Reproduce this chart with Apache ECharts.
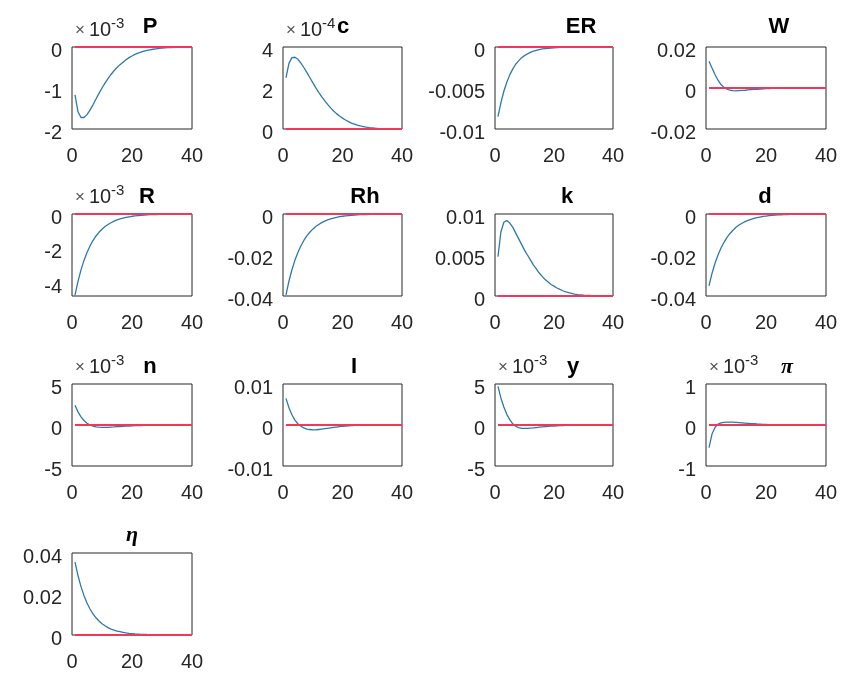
<!DOCTYPE html>
<html>
<head>
<meta charset="utf-8">
<script src="https://cdn.jsdelivr.net/npm/echarts@6/dist/echarts.min.js"></script>
<style>
html, body { margin: 0; background: #fff; }
#main { width: 841px; height: 673px; }
</style>
</head>
<body>
<div id="main"></div>
<script>
// impulse responses, periods 1..40
var horizon = [];
for (var h = 1; h <= 40; h++) horizon.push(h);

var names = ['P', 'c', 'ER', 'W', 'R', 'Rh', 'k', 'd', 'n', 'I', 'y', 'π', 'η'];
// exponent shown above the axis (values below are in those units)
var exps = ['-3', '-4', '', '', '-3', '', '', '', '-3', '', '-3', '-3', ''];

var P = [-1.17, -1.58, -1.72, -1.72, -1.65, -1.54, -1.41, -1.27, -1.13, -1.00, -0.88, -0.77, -0.67, -0.58, -0.50, -0.43, -0.37, -0.31, -0.26, -0.22,
  -0.18, -0.15, -0.125, -0.10, -0.085, -0.07, -0.055, -0.045, -0.035, -0.028, -0.022, -0.017, -0.013, -0.01, -0.008, -0.006, -0.005, -0.004, -0.003, -0.002];
var c = [2.50, 3.20, 3.48, 3.50, 3.40, 3.22, 3.00, 2.76, 2.51, 2.26, 2.02, 1.79, 1.58, 1.38, 1.20, 1.03, 0.88, 0.75, 0.63, 0.53,
  0.44, 0.36, 0.29, 0.24, 0.19, 0.15, 0.12, 0.09, 0.07, 0.055, 0.04, 0.03, 0.022, 0.016, 0.012, 0.009, 0.006, 0.004, 0.003, 0.002];
var ER = [-0.0085, -0.0068, -0.0054, -0.0043, -0.0034, -0.0027, -0.0021, -0.0017, -0.0013, -0.00105, -0.00083, -0.00065, -0.00051, -0.0004, -0.00031, -0.00024, -0.00019, -0.00015, -0.00012, -0.00009,
  -0.00007, -0.000055, -0.000043, -0.000034, -0.000026, -0.00002, -0.000016, -0.000012, -0.00001, -0.000008, -0.000006, -0.000005, -0.000004, -0.000003, -0.000002, -0.000002, -0.000001, -0.000001, -0.000001, 0];
var W = [0.0130, 0.0098, 0.0066, 0.0038, 0.0017, 0.0003, -0.0006, -0.0011, -0.0013, -0.0014, -0.0013, -0.0012, -0.0011, -0.0009, -0.0008, -0.0007, -0.0006, -0.0005, -0.0004, -0.0003,
  -0.00025, -0.0002, -0.00016, -0.00013, -0.0001, -0.00008, -0.00006, -0.00005, -0.00004, -0.00003, -0.00002, -0.00002, -0.00001, -0.00001, -0.00001, 0, 0, 0, 0, 0];
var R = [-4.65, -3.86, -3.20, -2.66, -2.21, -1.83, -1.52, -1.26, -1.05, -0.87, -0.72, -0.60, -0.50, -0.41, -0.34, -0.28, -0.23, -0.19, -0.16, -0.13,
  -0.11, -0.09, -0.075, -0.06, -0.05, -0.04, -0.035, -0.03, -0.025, -0.02, -0.015, -0.012, -0.01, -0.008, -0.006, -0.005, -0.004, -0.003, -0.002, -0.002];
var Rh = [-0.0395, -0.0328, -0.0272, -0.0226, -0.0188, -0.0156, -0.0129, -0.0107, -0.0089, -0.0074, -0.0061, -0.0051, -0.0042, -0.0035, -0.0029, -0.0024, -0.002, -0.0016, -0.0013, -0.0011,
  -0.0009, -0.00075, -0.0006, -0.0005, -0.0004, -0.00035, -0.0003, -0.00025, -0.0002, -0.00015, -0.00012, -0.0001, -0.00008, -0.00006, -0.00005, -0.00004, -0.00003, -0.00002, -0.00002, -0.00001];
var k = [0.0048, 0.0078, 0.0090, 0.0092, 0.0089, 0.0084, 0.0077, 0.0070, 0.0063, 0.0056, 0.0050, 0.0044, 0.0038, 0.0033, 0.0028, 0.0024, 0.0020, 0.0017, 0.0014, 0.0012,
  0.00098, 0.0008, 0.00064, 0.0005, 0.0004, 0.00031, 0.00024, 0.00018, 0.00014, 0.0001, 0.00008, 0.00006, 0.00004, 0.00003, 0.00002, 0.00002, 0.00001, 0.00001, 0, 0];
var d = [-0.035, -0.029, -0.024, -0.020, -0.0166, -0.0138, -0.0114, -0.0095, -0.0079, -0.0065, -0.0054, -0.0045, -0.0037, -0.0031, -0.0026, -0.0021, -0.0018, -0.0015, -0.0012, -0.001,
  -0.0008, -0.00066, -0.00055, -0.00045, -0.00037, -0.0003, -0.00025, -0.0002, -0.00017, -0.00014, -0.00011, -0.00009, -0.00007, -0.00006, -0.00005, -0.00004, -0.00003, -0.00002, -0.00002, -0.00001];
var n = [2.4, 1.6, 1.0, 0.55, 0.22, 0.0, -0.14, -0.22, -0.27, -0.29, -0.29, -0.28, -0.26, -0.24, -0.21, -0.19, -0.16, -0.14, -0.12, -0.10,
  -0.085, -0.07, -0.06, -0.05, -0.04, -0.033, -0.027, -0.022, -0.018, -0.014, -0.011, -0.009, -0.007, -0.005, -0.004, -0.003, -0.002, -0.002, -0.001, -0.001];
var I = [0.0065, 0.0042, 0.0025, 0.0012, 0.0003, -0.0003, -0.0007, -0.001, -0.0011, -0.0012, -0.0012, -0.0011, -0.001, -0.0009, -0.0008, -0.0007, -0.0006, -0.0005, -0.0004, -0.0003,
  -0.00025, -0.0002, -0.00015, -0.0001, -0.00008, -0.00006, -0.00004, -0.00003, -0.00002, -0.00001, 0, 0, 0, 0, 0, 0, 0, 0, 0, 0];
var y = [4.7, 3.3, 2.2, 1.3, 0.65, 0.15, -0.15, -0.32, -0.4, -0.42, -0.41, -0.38, -0.35, -0.31, -0.27, -0.23, -0.2, -0.17, -0.14, -0.12,
  -0.1, -0.08, -0.065, -0.05, -0.04, -0.032, -0.025, -0.02, -0.015, -0.012, -0.009, -0.007, -0.005, -0.004, -0.003, -0.002, -0.002, -0.001, -0.001, 0];
var pi = [-0.55, -0.22, -0.06, 0.02, 0.05, 0.065, 0.07, 0.07, 0.068, 0.064, 0.059, 0.053, 0.047, 0.041, 0.035, 0.03, 0.025, 0.021, 0.017, 0.014,
  0.011, 0.009, 0.007, 0.006, 0.005, 0.004, 0.003, 0.002, 0.002, 0.001, 0.001, 0, 0, 0, 0, 0, 0, 0, 0, 0];
var eta = [0.0355, 0.029, 0.0236, 0.0192, 0.0156, 0.0127, 0.0103, 0.0084, 0.0068, 0.0055, 0.0045, 0.0036, 0.0029, 0.0024, 0.0019, 0.0016, 0.0013, 0.001, 0.0008, 0.0007,
  0.00055, 0.00045, 0.00035, 0.0003, 0.00024, 0.0002, 0.00015, 0.00012, 0.0001, 0.00008, 0.00006, 0.00005, 0.00004, 0.00003, 0.00002, 0.00002, 0.00001, 0.00001, 0, 0];
var irf = [P, c, ER, W, R, Rh, k, d, n, I, y, pi, eta];

var yMin = [-2, 0, -0.01, -0.02, -4.7, -0.04, 0, -0.04, -5, -0.01, -5, -1, 0];
var yMax = [0, 4, 0, 0.02, 0, 0, 0.01, 0, 5, 0.01, 5, 1, 0.04];
var yTicks = [[-2, -1, 0], [0, 2, 4], [-0.01, -0.005, 0], [-0.02, 0, 0.02], [-4, -2, 0], [-0.04, -0.02, 0], [0, 0.005, 0.01],
  [-0.04, -0.02, 0], [-5, 0, 5], [-0.01, 0, 0.01], [-5, 0, 5], [-1, 0, 1], [0, 0.02, 0.04]];
var xTicks = [0, 20, 40];

// layout
var colLeft = [72, 283, 495, 706];
var colWidth = [120, 119, 118, 120];
var rowTop = [47, 214, 384, 553];
var boxH = 82;
var titleX = [150, 343, 581, 779, 147, 365, 567, 765, 150, 354, 573, 787, 132];
var titleY = [27, 197, 367, 535];

var blue = '#2f78ad', red = '#f0385a', ink = '#262626';
var font = 'Liberation Sans, Arial, sans-serif';

var chart = echarts.init(document.getElementById('main'), null, { renderer: 'canvas' });
var grids = [], xAxes = [], yAxes = [], series = [], graphics = [];

names.forEach(function (name, i) {
  var col = i % 4, row = Math.floor(i / 4);
  grids.push({
    left: colLeft[col], top: rowTop[row], width: colWidth[col], height: boxH,
    show: true, borderColor: ink, borderWidth: 1, backgroundColor: '#fff'
  });
  xAxes.push({
    type: 'value', gridIndex: i, min: 0, max: 40, interval: 20,
    axisLine: { show: false }, axisTick: { show: false }, splitLine: { show: false },
    axisLabel: { customValues: xTicks, fontSize: 20, color: ink, fontFamily: font, margin: 17 }
  });
  yAxes.push({
    type: 'value', gridIndex: i, min: yMin[i], max: yMax[i],
    axisLine: { show: false }, axisTick: { show: false }, splitLine: { show: false },
    axisLabel: {
      customValues: yTicks[i], margin: 10,
      formatter: function (v) { return '{t|' + String(+(+v).toPrecision(6)) + '}'; },
      rich: { t: { fontSize: 20, color: ink, fontFamily: font, padding: [8, 0, 0, 0] } }
    }
  });
  series.push({
    type: 'line', xAxisIndex: i, yAxisIndex: i, showSymbol: false, silent: true,
    lineStyle: { color: blue, width: 1.3 },
    data: horizon.map(function (t, j) { return [t, irf[i][j]]; })
  });
  series.push({
    type: 'line', xAxisIndex: i, yAxisIndex: i, showSymbol: false, silent: true,
    lineStyle: { color: red, width: 2.2 },
    data: horizon.map(function (t) { return [t, 0]; })
  });

  var greek = (name === 'π' || name === 'η');
  graphics.push({
    type: 'text', x: titleX[i], y: titleY[row],
    style: {
      text: name, align: 'center', verticalAlign: 'middle', fill: '#000',
      font: greek ? 'italic bold 22px "Liberation Serif", serif' : 'bold 22px ' + font
    }
  });
  if (exps[i]) {
    var ex = colLeft[col] + 3, ey = rowTop[row] - 17;
    graphics.push({
      type: 'text', x: ex, y: ey,
      style: { text: '×', align: 'left', verticalAlign: 'middle', fill: '#555', font: '17px ' + font }
    });
    graphics.push({
      type: 'text', x: ex + 14, y: ey,
      style: { text: '10', align: 'left', verticalAlign: 'middle', fill: ink, font: '20px ' + font }
    });
    graphics.push({
      type: 'text', x: ex + 36, y: ey - 6,
      style: { text: exps[i], align: 'left', verticalAlign: 'middle', fill: ink, font: '15px ' + font }
    });
  }
});

chart.setOption({
  animation: false,
  backgroundColor: '#fff',
  grid: grids,
  xAxis: xAxes,
  yAxis: yAxes,
  series: series,
  graphic: graphics
});
</script>
</body>
</html>
